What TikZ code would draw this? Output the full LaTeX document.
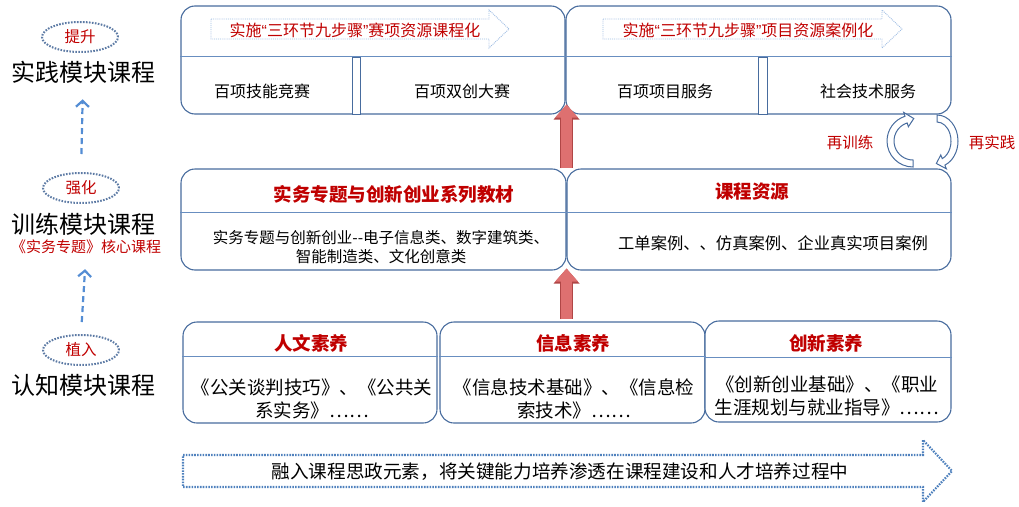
\documentclass[tikz,border=0pt]{standalone}
\usepackage{fontspec}
\setmainfont{Noto Sans CJK SC}
\newfontfamily\lat{Liberation Sans}
\usepackage{tikz}
\usetikzlibrary{shapes.geometric,arrows.meta,calc}
\definecolor{textred}{RGB}{192,0,0}
\definecolor{boxblue}{RGB}{72,108,158}
\definecolor{divblue}{RGB}{104,142,192}
\definecolor{dotblue}{RGB}{92,122,164}
\definecolor{dashblue}{RGB}{84,141,212}
\definecolor{arrblue}{RGB}{79,129,189}
\definecolor{lightblue}{RGB}{160,190,228}
\definecolor{redfill}{RGB}{222,112,112}
\definecolor{redline}{RGB}{176,70,70}
\newcommand{\RD}[1]{\textcolor{textred}{#1}}
\newcommand{\FS}[2]{\fontsize{#1}{#2}\selectfont}
\newcommand{\LQ}{{\lat “}}
\newcommand{\RQ}{{\lat ”}}

\begin{document}
\begin{tikzpicture}[x=1pt, y=-1pt,
  box/.style={draw=boxblue, line width=1.1pt, rounded corners=14pt, fill=white, inner sep=0pt},
  divline/.style={draw=divblue, line width=1.1pt},
  sepbar/.style={draw=boxblue, line width=0.9pt, fill=white, minimum width=8pt, minimum height=57pt, inner sep=0pt},
  tag/.style={ellipse, draw=dotblue, line width=2pt, dash pattern=on 1.6pt off 1.4pt, minimum width=76pt, minimum height=30pt, inner sep=0pt, font={\FS{15.5pt}{18pt}}, text=textred},
  level/.style={font={\FS{24pt}{28pt}}, inner sep=0pt},
  uparr/.style={draw=dashblue, line width=2.2pt, dash pattern=on 6pt off 4pt, -{Straight Barb[length=6pt,width=13pt]}},
  hdarrow/.style={draw=lightblue, line width=0.9pt, densely dotted},
  botarrow/.style={draw=arrblue, line width=2.2pt, dash pattern=on 1.6pt off 1.2pt},
  redarr/.style={line width=11pt, redfill, -{Triangle[width=22pt,length=13pt]},
    preaction={draw=redline, line width=13pt, -{Triangle[width=25pt,length=15pt]}}},
  cyc/.style={draw=boxblue, line width=1pt, fill=white},
  sub/.style={font={\FS{16pt}{19pt}}, inner sep=0pt},
  head/.style={font={\FS{18.5pt}{21pt}\bfseries}, text=textred, inner sep=0pt},
  body/.style={font={\FS{18.5pt}{23pt}}, align=center, inner sep=0pt}]

  \useasboundingbox (0,0) rectangle (1019,506);

  \newcommand\HA[2]{\draw[hdarrow] (#1,19) -- (#2-20,19) -- (#2-20,10) -- (#2,29)
    -- (#2-20,48) -- (#2-20,39) -- (#1,39) -- cycle;}

  % left column
  \node[tag] (e1) at (80,37) {提升};
  \node[level] (t1) at (83,72) {实践模块课程};
  \node[tag] (e2) at (81,188) {强化};
  \node[level] (t2) at (83,224) {训练模块课程};
  \node[font={\FS{15pt}{18pt}}, inner sep=0pt] (t2b) at (86,247) {\RD{《实务专题》核心课程}};
  \node[tag] (e3) at (81,350) {植入};
  \node[level] (t3) at (83,385) {认知模块课程};
  \draw[uparr, shorten <=18pt, shorten >=16pt] (e2.north) -- (t1.south); %% 强化->实践
  \draw[uparr, shorten <=12pt, shorten >=15pt] (e3.north) -- (t2b.south); %% 植入->训练

  % top row
  \node[box, minimum width=384pt, minimum height=108pt] (tl) at (373,60) {};
  \node[box, minimum width=385pt, minimum height=108pt] (tr) at (758.5,60) {};
  \draw[divline] ([yshift=-51pt]tl.north west) -- ([yshift=-51pt]tl.north east);
  \draw[divline] ([yshift=-51pt]tr.north west) -- ([yshift=-51pt]tr.north east);
  \HA{211}{509}
  \HA{603}{902}
  \node[sub, text=textred] (ha) at (355,30) {实施\LQ 三环节九步骤\RQ 赛项资源课程化};
  \node[sub, text=textred] (hb) at (748,30) {实施\LQ 三环节九步骤\RQ 项目资源案例化};
  \node[sepbar] (sepa) at (356,85.5) {};
  \node[sepbar, minimum width=9pt] (sepb) at (762.5,85.5) {};
  \node[sub] (s1) at (262,91) {百项技能竞赛};
  \node[sub] (s2) at (462,91) {百项双创大赛};
  \node[sub] (s3) at (665,91) {百项项目服务};
  \node[sub] (s4) at (868,91) {社会技术服务};

  % middle row
  \node[box, minimum width=385pt, minimum height=101pt] (ml) at (373.5,219.5) {};
  \node[box, minimum width=384pt, minimum height=101pt] (mr) at (759,219.5) {};
  \draw[divline] ([yshift=-44pt]ml.north west) -- ([yshift=-44pt]ml.north east);
  \draw[divline] ([yshift=-44pt]mr.north west) -- ([yshift=-44pt]mr.north east);
  \node[head] (mh1) at (394,194) {实务专题与创新创业系列教材};
  \node[font={\FS{15.5pt}{19pt}}, align=center, inner sep=0pt] (mb1) at (381,247)
    {实务专题与创新创业-{}-电子信息类、数字建筑类、\\智能制造类、文化创意类};
  \node[head] (mh2) at (752,192) {课程资源};
  \node[font={\FS{16.3pt}{19pt}}, inner sep=0pt] (mb2) at (773,243) {工单案例、、仿真案例、企业真实项目案例};

  % bottom row
  \node[box, minimum width=254pt, minimum height=101pt] (b1) at (310,372.5) {};
  \node[box, minimum width=265pt, minimum height=101pt] (b2) at (572.5,372.5) {};
  \node[box, minimum width=246pt, minimum height=101pt] (b3) at (828,371.5) {};
  \draw[divline] ([yshift=-35pt]b1.north west) -- ([yshift=-35pt]b1.north east);
  \draw[divline] ([yshift=-35pt]b2.north west) -- ([yshift=-35pt]b2.north east);
  \draw[divline] ([yshift=-37pt]b3.north west) -- ([yshift=-37pt]b3.north east);
  \node[head] (bh1) at (311,343) {人文素养};
  \node[head] (bh2) at (573,343) {信息素养};
  \node[head] (bh3) at (826,343) {创新素养};
  \node[body] (bb1) at (312,398.5) {《公关谈判技巧》、《公共关\\系实务》……};
  \node[body] (bb2) at (574,398.5) {《信息技术基础》、《信息检\\索技术》……};
  \node[body] (bb3) at (827,396) {《创新创业基础》、《职业\\生涯规划与就业指导》……};

  % bottom arrow
  \draw[botarrow] (183,455) -- (923,455) -- (923,440) -- (952,471) -- (923,502)
    -- (923,487) -- (183,487) -- cycle;
  \node[font={\FS{18.6pt}{21pt}}, inner sep=0pt] (ba) at (560,472)
    {融入课程思政元素，将关键能力培养渗透在课程建设和人才培养过程中};

  % red arrows
  \draw[redarr, shorten >=-10pt] (ml.north east) -- (ml.north east |- tl.south); %% 教材->实践
  \draw[redarr, shorten <=2pt, shorten >=-2pt] (ml.south east |- b2.north) -- (ml.south east); %% 素养->教材

  % cycle
  \coordinate (cl) at (913,141);
  \coordinate (cr) at (937,141);
  \draw[cyc] ($(cl)+(90:26)$) arc[start angle=90, end angle=252, radius=26]
    -- ($(cl)+(252:30)$) -- ($(cl)+(272:22.5)$) -- ($(cl)+(252:15)$) -- ($(cl)+(252:19)$)
    arc[start angle=252, end angle=90, radius=19] -- cycle;
  \draw[cyc] ($(cr)+(270:21 and 26)$) arc[start angle=270, end angle=428, x radius=21, y radius=26]
    -- ($(cr)+(428:25 and 30)$) -- ($(cr)+(452:17.5 and 22.5)$) -- ($(cr)+(428:10 and 15)$)
    -- ($(cr)+(428:14 and 19)$) arc[start angle=428, end angle=270, x radius=14, y radius=19] -- cycle;
  \node[font={\FS{15.5pt}{18pt}}, text=textred, inner sep=0pt] (rt) at (850,143) {再训练};
  \node[font={\FS{15.5pt}{18pt}}, text=textred, inner sep=0pt] (rp) at (992,143) {再实践};
\end{tikzpicture}
\end{document}
